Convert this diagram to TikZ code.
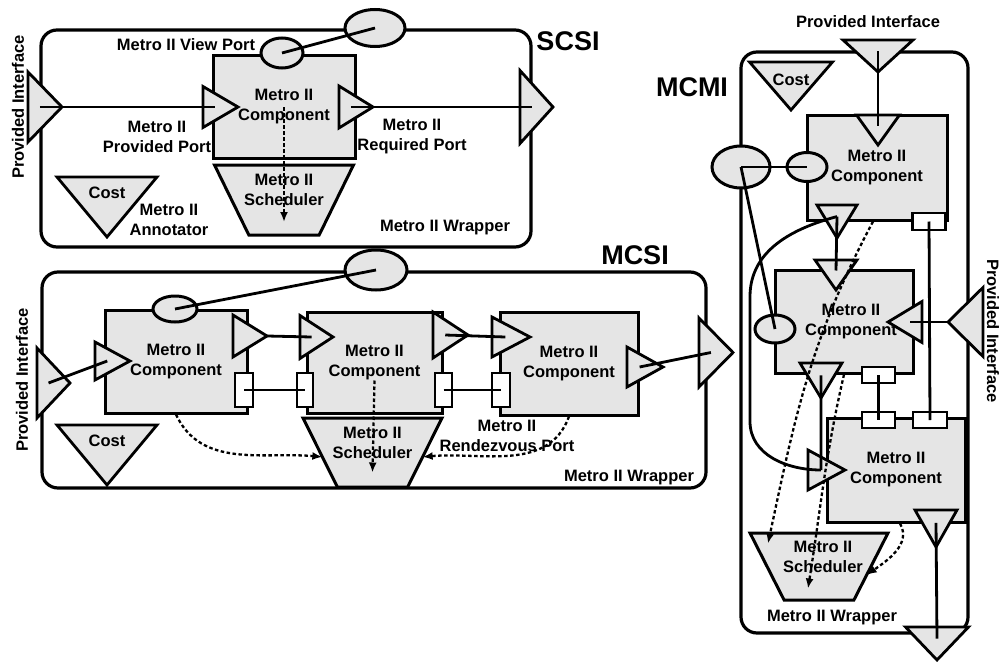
\documentclass[tikz,border=0pt]{standalone}
\usepackage{fontspec}
\setmainfont{Liberation Sans}
\usetikzlibrary{arrows.meta,calc,shapes.geometric}

\tikzset{
  every node/.style={font=\bfseries\fontsize{16.5}{20}\selectfont},
  wrapper/.style={draw, line width=3.2pt, rounded corners=16pt, inner sep=0pt},
  comp/.style={draw, fill=black!10, line width=3pt, inner sep=0pt, align=center},
  port/.style 2 args={draw, fill=black!10, line width=2.8pt, isosceles triangle, isosceles triangle stretches,
    inner sep=0pt, outer sep=0pt, anchor=lower side, minimum height=#1, minimum width=#2},
  rdv/.style={draw, fill=white, line width=2.8pt, inner sep=0pt},
  vport/.style={draw, fill=black!10, ellipse, line width=3pt, inner sep=0pt},
  sched/.style={draw, fill=black!10, trapezium, trapezium stretches=true, shape border rotate=180,
    trapezium angle=64, line width=3pt, inner sep=2pt, outer sep=0pt, minimum width=139pt, minimum height=69pt},
  link/.style={line width=2.8pt},
  flow/.style={line width=2.3pt, dash pattern=on 3.5pt off 2.5pt, -{Latex[length=10pt,width=8pt]}},
  txt/.style={align=center, inner sep=0pt},
  title/.style={inner sep=0pt, font=\bfseries\fontsize{27}{30}\selectfont},
}

\begin{document}
\begin{tikzpicture}[x=1pt,y=-1pt]
  \useasboundingbox (0,0) rectangle (1003,661);

  % wrappers
  \node[wrapper, minimum width=490pt, minimum height=217pt] (sW) at (286,138.5) {};
  \node[wrapper, minimum width=664pt, minimum height=216pt] (mW) at (374,380) {};
  \node[wrapper, minimum width=227pt, minimum height=581pt] (cW) at (854.5,342.5) {};

  % components
  \node[comp, minimum width=142pt, minimum height=102pt] (sC) at (284,107) {Metro II\\Component};
  \node[comp, minimum width=142pt, minimum height=103pt] (m1) at (176,361.5) {Metro II\\Component};
  \node[comp, minimum width=135pt, minimum height=101pt] (m2) at (374.5,362.5) {Metro II\\Component};
  \node[comp, minimum width=138pt, minimum height=103pt] (m3) at (569,363.5) {Metro II\\Component};
  \node[comp, minimum width=140pt, minimum height=105pt] (cA) at (877,167.5) {Metro II\\Component};
  \node[comp, minimum width=138pt, minimum height=103pt] (cB) at (844,321.5) {\hspace*{14pt}Metro II\\\hspace*{14pt}Component};
  \node[comp, minimum width=138pt, minimum height=104pt] (cC) at (896,470) {Metro II\\Component};

  % schedulers
  \node[sched, minimum height=70pt] (sS) at (284,200) {};
  \node[sched] (mS) at (372.5,452.5) {};
  \node[sched, minimum width=138pt, minimum height=67pt] (cS) at (819,566.5) {};

  % ports
  \node[port={34pt}{70pt}] (sPI) at (28,107) {};
  \node[port={35pt}{41pt}] (sPP) at (203,107) {};
  \node[port={34pt}{42pt}] (sRP) at (339,107) {};
  \node[port={33pt}{73pt}] (sOut) at (520,107) {};
  \node[port={60pt}{100pt}, rotate=-90] (sCost) at (107,177) {};

  \node[port={33pt}{70pt}] (mPI) at (37,383) {};
  \node[port={35pt}{38pt}] (m1PP) at (95,361) {};
  \node[port={34pt}{42pt}] (m1RP) at (233,336) {};
  \node[port={33pt}{43pt}] (m2PP) at (300,337) {};
  \node[port={35pt}{46pt}] (m2RP) at (433,335) {};
  \node[port={38pt}{40pt}] (m3PP) at (492,337) {};
  \node[port={36pt}{40pt}] (m3RP) at (627,367) {};
  \node[port={34pt}{69pt}] (mOut) at (699,352.5) {};
  \node[port={60pt}{100pt}, rotate=-90] (mCost) at (107,425) {};

  \node[port={32pt}{70pt}, rotate=-90] (cPI) at (878,40) {};
  \node[port={48pt}{83pt}, rotate=-90] (cCost) at (791,62) {};
  \node[port={30pt}{43pt}, rotate=-90] (aPP) at (878,115) {};
  \node[port={33pt}{40pt}, rotate=-90] (aRP) at (837,205) {};
  \node[port={30pt}{42pt}, rotate=-90] (bPP) at (836,260) {};
  \node[port={34pt}{41pt}, rotate=180] (bPR) at (922,322) {};
  \node[port={35pt}{69pt}, rotate=180] (cPR) at (983,322) {};
  \node[port={35pt}{42pt}, rotate=-90] (bRP) at (821,363) {};
  \node[port={37pt}{40pt}] (cLP) at (808,470) {};
  \node[port={37pt}{42pt}, rotate=-90] (cRP) at (936,510) {};
  \node[port={33pt}{63pt}, rotate=-90] (cOut) at (937,627) {};

  % view ports
  \node[vport, minimum width=60pt, minimum height=37pt] (sWV) at (375,28) {};
  \node[vport, minimum width=42pt, minimum height=30pt] (sV) at (282,53) {};
  \node[vport, minimum width=62pt, minimum height=40pt] (mWV) at (376,270) {};
  \node[vport, minimum width=44pt, minimum height=26pt] (m1V) at (175,309) {};
  \node[vport, minimum width=58pt, minimum height=42pt] (cWV) at (741,167) {};
  \node[vport, minimum width=40pt, minimum height=29pt] (aV) at (807,167) {};
  \node[vport, minimum width=40pt, minimum height=28pt] (bV) at (775,329) {};

  % rendezvous ports
  \node[rdv, minimum width=18pt, minimum height=34pt] (m1R) at (244,390) {};
  \node[rdv, minimum width=16pt, minimum height=34pt] (m2L) at (305,390) {};
  \node[rdv, minimum width=17pt, minimum height=34pt] (m2R) at (443.5,390) {};
  \node[rdv, minimum width=18pt, minimum height=34pt] (m3L) at (501,390) {};
  \node[rdv, minimum width=33pt, minimum height=17pt] (aR) at (929,221.5) {};
  \node[rdv, minimum width=33pt, minimum height=16pt] (bR) at (878.5,375) {};
  \node[rdv, minimum width=33pt, minimum height=16pt] (cR1) at (878.5,420) {};
  \node[rdv, minimum width=34pt, minimum height=16pt] (cR2) at (930,420) {};

  \foreach \p in {sPI,sPP,sRP,sOut,mPI,m1PP,m2PP,m2RP,m3PP,m3RP,mOut,cPI,aPP,aRP,bPP,bPR,bRP,cLP,cRP,cOut}
    \coordinate (\p-in) at ($(\p.lower side)!.35!(\p.apex)$);

  % connections
  \draw[link] (sPI-in) -- (sPP-in);
  \draw[link] (sRP-in) -- (sOut-in);
  \draw[link] (sV.center) -- (sWV.center);
  \draw[link] (mPI-in) -- (m1PP-in);
  \draw[link] (m1RP.apex) -- (m2PP-in);
  \draw[link] (m2RP-in) -- (m3PP-in);
  \draw[link] (m3RP-in) -- (mOut-in);
  \draw[link] (m1V.center) -- (mWV.center);
  \draw[link] (m1R.center) -- (m2L.center);
  \draw[link] (m2R.center) -- (m3L.center);
  \draw[link] (cPI-in) -- (aPP-in);
  \draw[link] (aRP-in) -- (bPP-in);
  \draw[link] (cPR.apex) -- (bPR-in);
  \draw[link] (bRP-in) -- (cLP-in);
  \draw[link] (cRP-in) -- (cOut-in);
  \draw[link] (cWV.center) -- (aV.center);
  \draw[link] (cWV.center) -- (bV.center);
  \draw[link] (aR.center) -- (cR2.center);
  \draw[link] (bR.center) -- (cR1.center);
  \draw[link] (aRP-in) to[out=195,in=90] ++(-87,80) -- ++(0,125) to[out=-90,in=180] (cLP-in);

  % scheduling
  \draw[flow] (sC.center) -- ([yshift=-22pt]sS.center);
  \draw[flow] ([yshift=-18pt]m2.center) -- ([yshift=-20pt]mS.center);
  \draw[flow] (m1.south) to[out=-65,in=175] (mS.185);
  \draw[flow] (m3.south) to[out=-110,in=5] (mS.-5);
  \draw[flow] ([xshift=-4pt]cA.south) to[out=-118,in=78] ([xshift=-51pt,yshift=23pt]cS.center);
  \draw[flow] (cB.south) to[out=-103,in=81] ([xshift=-11pt,yshift=-22pt]cS.center);
  \draw[flow] ([xshift=4pt]cC.south) to[out=-60,in=35] (cS.-10);

  % labels
  \node[txt, rotate=90] (sPIt) at (18,107) {Provided Interface};
  \node[txt] (sVt) at (186,45) {Metro II View Port};
  \node[txt] (sPPt) at (157,137) {Metro II\\Provided Port};
  \node[txt] (sRPt) at (412,137) {Metro II\\Required Port};
  \node[txt] (sCt) at ($(sCost.lower side)!.27!(sCost.apex)$) {Cost};
  \node[txt] (sAt) at (169,220) {Metro II\\Annotator};
  \node[txt] (sWt) at (445,228) {Metro II Wrapper};
  \node[txt] (sSt) at ([yshift=10pt]sS.center) {Metro II\\Scheduler};
  \node[title] (sT) at (568,41) {SCSI};

  \node[txt, rotate=90] (mPIt) at (22,380) {Provided Interface};
  \node[txt] (mCt) at ($(mCost.lower side)!.27!(mCost.apex)$) {Cost};
  \node[txt] (mSt) at ([yshift=10pt]mS.center) {Metro II\\Scheduler};
  \node[txt] (mRt) at (507,436) {Metro II\\Rendezvous Port};
  \node[txt] (mWt) at (629,478) {Metro II Wrapper};
  \node[title] (mT) at (635,255) {MCSI};

  \node[txt] (cPIt) at (868,22) {Provided Interface};
  \node[txt, rotate=-90] (cPRt) at (993,331) {Provided Interface};
  \node[txt] (cCt) at ($(cCost.lower side)!.38!(cCost.apex)$) {Cost};
  \node[txt] (cSt) at ([xshift=4pt,yshift=10pt]cS.center) {Metro II\\Scheduler};
  \node[txt] (cWt) at (832,618) {Metro II Wrapper};
  \node[title] (cT) at (692,87) {MCMI};
\end{tikzpicture}
\end{document}
